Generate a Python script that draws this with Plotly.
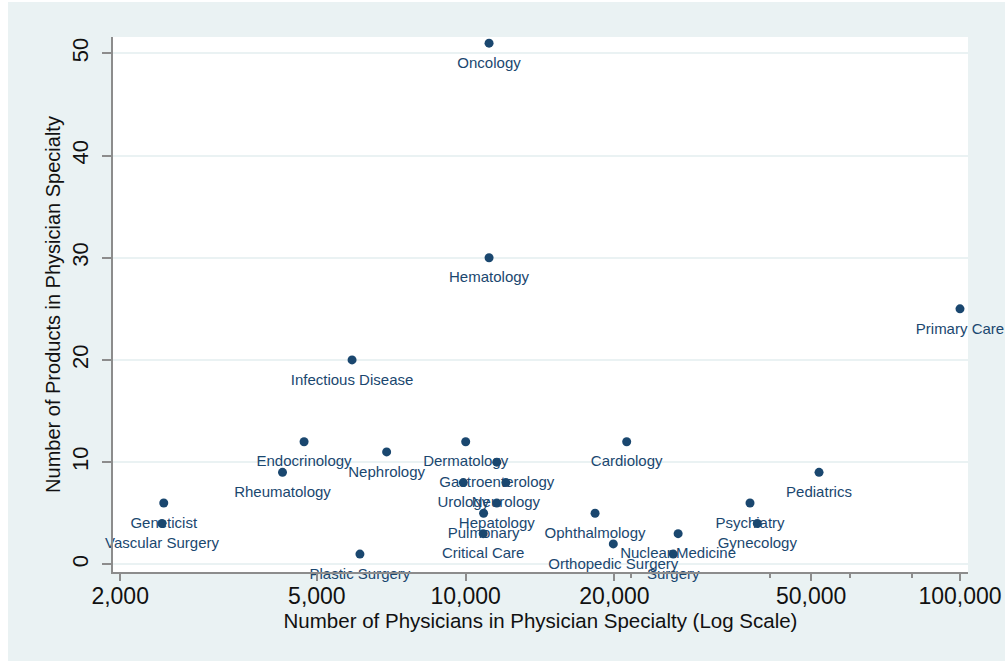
import plotly.graph_objects as go

# ---- data ----
specialties = ["Oncology", "Hematology", "Primary Care", "Infectious Disease",
               "Endocrinology", "Nephrology", "Dermatology", "Cardiology",
               "Rheumatology", "Gastroenterology", "Pediatrics", "Urology",
               "Neurology", "Geneticist", "Psychiatry", "Hepatology",
               "Ophthalmology", "Pulmonary", "Vascular Surgery", "Gynecology",
               "Critical Care", "Nuclear Medicine", "Orthopedic Surgery",
               "Plastic Surgery", "Surgery"]
physicians = [11150, 11150, 100000, 5890,
              4710, 6920, 10000, 21170,
              4260, 11560, 51860, 9890,
              12060, 2450, 37600, 11560,
              18270, 10870, 2430, 38900,
              10850, 26900, 19890,
              6110, 26300]
products = [51, 30, 25, 20,
            12, 11, 12, 12,
            9, 10, 9, 8,
            8, 6, 6, 6,
            5, 5, 4, 4,
            3, 3, 2,
            1, 1]

x_ticks = [2000, 5000, 10000, 20000, 50000, 100000]
x_ticktext = ["2,000", "5,000", "10,000", "20,000", "50,000", "100,000"]
x_minor = [21600, 41300, 60000, 80000]
y_ticks = [0, 10, 20, 30, 40, 50]

NAVY = "#1a476f"
BG = "#eaf2f3"
AXIS = "#8c8c8c"
FONT = "Liberation Sans"

fig = go.Figure()
# labels (transparent, larger markers push the text further below the points)
fig.add_trace(go.Scatter(
    x=physicians, y=products, text=specialties,
    mode="markers+text", textposition="bottom center",
    marker=dict(color="rgba(0,0,0,0)", size=20),
    textfont=dict(family=FONT, size=15, color=NAVY),
    cliponaxis=False, showlegend=False, hoverinfo="skip",
))
# points
fig.add_trace(go.Scatter(
    x=physicians, y=products, text=specialties,
    mode="markers",
    marker=dict(color=NAVY, size=9),
    cliponaxis=False, showlegend=False, hoverinfo="x+y+text",
))

fig.update_layout(
    width=1005, height=661,
    margin=dict(l=113, r=37, t=37, b=89),
    paper_bgcolor=BG, plot_bgcolor="white",
    font=dict(family=FONT, color="#111111"),
    xaxis=dict(
        type="log", range=[3.2865, 5.0162], automargin=False,
        tickvals=x_ticks, ticktext=x_ticktext,
        ticks="outside", ticklen=7, tickwidth=1.5, tickcolor=AXIS,
        ticklabelstandoff=-4,
        minor=dict(tickvals=x_minor, ticks="outside", ticklen=4,
                   tickwidth=1.5, tickcolor=AXIS, showgrid=False),
        showline=True, linecolor=AXIS, linewidth=1.5,
        showgrid=False, zeroline=False,
        tickfont=dict(size=23),
        title=dict(text="Number of Physicians in Physician Specialty (Log Scale)",
                   font=dict(size=20.5), standoff=0),
    ),
    yaxis=dict(
        range=[-0.75, 51.6], automargin=False,
        tickvals=y_ticks, tickangle=-90,
        ticks="outside", ticklen=9, tickwidth=1.5, tickcolor=AXIS,
        ticklabelstandoff=5,
        showline=True, linecolor=AXIS, linewidth=1.5,
        showgrid=True, gridcolor=BG, gridwidth=2, zeroline=False,
        tickfont=dict(size=22),
        title=dict(text="Number of Products in Physician Specialty",
                   font=dict(size=20), standoff=2),
    ),
    shapes=[
        dict(type="rect", xref="paper", yref="paper",
             x0=(0 - 113) / 855, x1=(8 - 113) / 855,
             y0=(572 - 661) / 535, y1=(572 - 0) / 535,
             fillcolor="white", line=dict(width=0), layer="below"),
        dict(type="rect", xref="paper", yref="paper",
             x0=(0 - 113) / 855, x1=(1005 - 113) / 855,
             y0=(572 - 2) / 535, y1=(572 - 0) / 535,
             fillcolor="white", line=dict(width=0), layer="below"),
    ],
)

fig.write_html("out.html")
